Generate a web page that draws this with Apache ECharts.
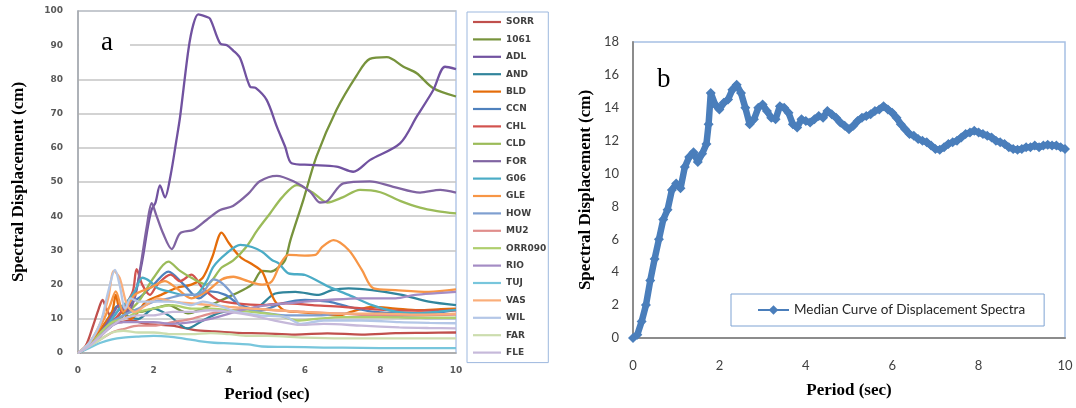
<!DOCTYPE html>
<html>
<head>
<meta charset="utf-8">
<script src="https://cdn.jsdelivr.net/npm/echarts@6/dist/echarts.min.js"></script>
<style>
  html, body { margin: 0; padding: 0; background: #fff; }
  #main { width: 1076px; height: 408px; }
</style>
</head>
<body>
<div id="main"></div>
<script>
// panel a: station names (legend order) and their curves [period, displacement]
var stations = ['SORR', '1061', 'ADL', 'AND', 'BLD', 'CCN', 'CHL', 'CLD', 'FOR', 'G06',
  'GLE', 'HOW', 'MU2', 'ORR090', 'RIO', 'TUJ', 'VAS', 'WIL', 'FAR', 'FLE'];

var sorr = [[0,0],[0.2,2],[0.4,8],[0.55,13],[0.65,15.5],[0.75,13],[0.9,10],[1.1,9],[1.4,9.5],[1.8,8.5],[2.2,8.2],[2.6,7.8],[3.1,6.7],[3.6,6.3],[4.2,5.9],[4.9,5.75],[5.75,5.4],[6.6,5.75],[7.5,5.4],[8.4,5.8],[9.2,5.9],[10,6]];
var s1061 = [[0,0],[0.3,2],[0.6,6],[1.0,10],[1.3,13],[1.6,12],[2.0,13],[2.4,14],[2.7,12.5],[2.91,11.6],[3.3,13],[3.7,15],[4.1,17],[4.6,20],[4.87,24],[5.1,23.8],[5.3,25],[5.48,27.2],[5.62,33],[5.96,44.7],[6.31,57.5],[6.84,71.1],[7.37,81.1],[7.72,86],[8.17,86.5],[8.61,83.7],[8.96,81.8],[9.4,77.4],[10,75]];
var adl = [[0,0],[0.3,2],[0.6,5],[0.9,8],[1.2,11],[1.5,17],[1.7,27],[1.85,37],[1.95,42],[2.05,44],[2.17,49],[2.3,45.5],[2.45,52],[2.6,62],[2.7,69],[2.92,88.6],[3.05,96],[3.18,99],[3.35,98.5],[3.49,97.8],[3.76,90.5],[3.94,90],[4.1,88.5],[4.29,86.2],[4.55,77.9],[4.7,77.5],[4.99,74],[5.26,66.2],[5.48,60.3],[5.65,55.5],[6.14,55],[6.84,54.5],[7.28,53],[7.72,56.4],[8.52,61.3],[8.96,69.1],[9.4,76.9],[9.71,83.7],[10,83]];
var and = [[0,0],[0.3,2],[0.6,6],[0.9,12],[1.1,14],[1.3,11],[1.6,10],[2.0,13],[2.4,11],[2.9,7.2],[3.26,9.2],[3.7,11.6],[4.23,12.6],[4.76,13.5],[5.22,17.4],[5.75,17.9],[6.37,17],[6.72,18.4],[7.16,18.9],[7.78,18.4],[8.57,17],[9.28,15],[10,14]];
var bld = [[0,0],[0.3,2],[0.6,7],[0.9,12],[1.0,17],[1.1,13],[1.4,10],[1.8,15],[2.2,17],[2.6,19],[3.0,20],[3.3,22],[3.55,28],[3.8,35.2],[4.0,32],[4.3,28],[4.6,26],[4.87,23.8],[5.05,19],[5.22,15],[5.45,12.5],[5.8,12],[6.4,11.5],[6.9,11],[7.25,12.1],[7.78,13.5],[8.4,13],[9.0,12.5],[9.6,12.8],[10,13]];
var ccn = [[0,0],[0.3,2],[0.6,6],[0.9,10],[1.2,14],[1.6,16],[2.0,20],[2.39,23.8],[2.8,20],[3.2,16],[3.5,18],[3.9,17],[4.3,14],[4.87,12.6],[5.4,14.5],[6.01,15.5],[6.63,15],[7.16,13.5],[7.78,12.1],[8.57,11.6],[9.28,11.6],[10,12.6]];
var chl = [[0,0],[0.3,2],[0.6,6],[0.9,9],[1.2,13],[1.45,18],[1.55,24.5],[1.7,20],[1.9,17],[2.1,20],[2.45,22.9],[2.7,21],[3.0,22.9],[3.3,19],[3.7,15.5],[4.2,14.5],[4.87,14],[5.5,14.5],[6.2,14],[7.0,13.5],[7.8,12.8],[8.6,12.4],[9.4,12.4],[10,12.5]];
var cld = [[0,0],[0.3,2],[0.6,5],[0.9,9],[1.2,11],[1.6,15],[2.0,22],[2.39,26.7],[2.7,24],[3.0,22],[3.4,20],[3.8,25],[4.1,27],[4.45,31],[4.75,36],[5.08,40.8],[5.4,45.5],[5.79,49.1],[6.2,47],[6.6,44],[7.0,45.5],[7.46,47.7],[8.0,47],[8.52,44.5],[9.05,42.5],[9.5,41.5],[10,40.8]];
var sfor = [[0,0],[0.3,2],[0.6,6],[0.9,11],[1.1,14],[1.3,12],[1.5,16],[1.65,25],[1.82,37],[1.95,43.8],[2.08,40],[2.25,35],[2.48,30.4],[2.7,35],[3.05,36],[3.4,38.9],[3.76,41.8],[4.1,43],[4.5,46.5],[4.81,50.2],[5.26,51.8],[5.7,50.2],[6.14,47.2],[6.4,44],[6.6,44.5],[7.02,49.6],[7.72,50.2],[8.34,48.6],[9.05,46.9],[9.58,47.7],[10,46.9]];
var g06 = [[0,0],[0.3,2],[0.6,5],[0.9,10],[1.1,13],[1.3,15],[1.5,18],[1.7,22],[1.9,21],[2.1,19],[2.4,18],[2.8,17],[3.1,17],[3.4,21],[3.58,25.2],[3.93,29.1],[4.29,31.6],[4.6,31],[4.87,29.6],[5.13,27.2],[5.31,26.2],[5.57,23.3],[6.01,22.8],[6.63,19.4],[7.16,17],[7.78,14],[8.4,12.1],[9.01,11.6],[9.54,12.1],[10,12.6]];
var gle = [[0,0],[0.3,3],[0.6,8],[0.85,14],[1.0,18],[1.2,12],[1.5,17],[1.9,19],[2.3,21],[2.6,19],[3.0,16],[3.4,18],[3.8,21.5],[4.11,22.3],[4.5,21],[4.87,20],[5.13,21],[5.35,26],[5.57,28.7],[6.0,28.5],[6.28,28.7],[6.46,31],[6.76,33],[7.16,30.1],[7.51,24.3],[7.82,18.9],[8.4,18.4],[9.28,17.9],[10,18.6]];
var how = [[0,0],[0.3,2],[0.6,5],[0.9,9],[1.2,11],[1.6,13],[2.0,15],[2.4,16],[2.8,17],[3.1,17],[3.35,18.4],[3.58,21.5],[3.8,20.5],[4.1,17],[4.32,13.5],[4.8,12],[5.5,11],[6.3,11],[7.0,11.5],[7.8,11],[8.6,10.5],[9.3,10.2],[10,10.2]];
var mu2 = [[0,0],[0.3,2],[0.6,4],[0.9,6],[1.2,7],[1.6,8],[2.0,8],[2.5,9],[3.0,10],[3.5,11.5],[4.0,12.5],[4.6,13],[5.2,12.5],[6.0,12],[7.0,11.5],[8.0,11],[9.0,11],[10,11.2]];
var orr090 = [[0,0],[0.3,2],[0.6,6],[0.9,9],[1.2,10],[1.6,12],[2.0,13],[2.5,14],[3.0,13],[3.5,13],[4.0,12.5],[4.6,12],[5.3,11],[5.8,9.5],[6.3,10],[7.0,10.5],[8.0,10.5],[9.0,10.3],[10,10.3]];
var rio = [[0,0],[0.3,2],[0.6,5],[0.9,8],[1.2,9],[1.6,9],[2.0,9],[2.5,8.5],[3.0,9],[3.5,10],[4.0,11.5],[4.5,13],[5.0,14],[5.5,14.5],[6.0,15],[6.6,15.5],[7.5,16],[8.4,16],[8.92,17],[9.5,17.5],[10,17.9]];
var tuj = [[0,0],[0.3,1.5],[0.6,3],[0.9,4],[1.2,4.5],[1.6,4.8],[2.0,5],[2.4,4.8],[2.8,4.2],[3.2,3.5],[3.6,3],[4.0,2.8],[4.5,2.5],[4.87,1.9],[5.5,1.8],[6.5,1.6],[7.5,1.5],[8.5,1.4],[10,1.4]];
var vas = [[0,0],[0.3,3],[0.6,9],[0.8,16],[0.95,24],[1.1,22],[1.3,14],[1.5,12],[1.8,14],[2.1,16],[2.5,15],[3.0,14.5],[3.5,14],[4.0,13.5],[4.6,13],[5.3,12.5],[6.0,12],[7.0,11.5],[8.0,11.5],[9.0,11.2],[10,11.5]];
var wil = [[0,0],[0.3,3],[0.6,9],[0.8,18],[0.98,24.3],[1.1,20],[1.25,13],[1.4,16],[1.6,15],[2.0,15],[2.5,15],[3.0,14],[3.3,15],[3.7,14],[4.2,12],[4.8,11],[5.5,10.5],[5.9,8.5],[6.5,9.5],[7.5,9.5],[8.5,9],[9.3,8.8],[10,8.7]];
var far = [[0,0],[0.3,2],[0.6,4],[0.9,6],[1.2,6.5],[1.6,6],[2.0,6],[2.5,5.5],[3.0,5.5],[3.5,5.8],[4.0,5.5],[4.5,5],[5.0,5],[6.0,4.5],[7.0,4.3],[8.0,4.3],[9.0,4.3],[10,4.3]];
var fle = [[0,0],[0.3,2],[0.6,5],[0.9,8],[1.2,10],[1.6,11],[2.0,11],[2.5,12],[3.0,12],[3.5,12.5],[4.0,12],[4.6,11],[5.2,9.5],[5.9,8.2],[6.5,8.5],[7.5,8],[8.5,7.5],[9.3,7.3],[10,7.2]];

var stationCurves = [sorr, s1061, adl, and, bld, ccn, chl, cld, sfor, g06,
  gle, how, mu2, orr090, rio, tuj, vas, wil, far, fle];

// panel b: median curve
var medianName = 'Median Curve of Displacement Spectra';
var median = [[0,0],[0.1,0.2],[0.2,1.0],[0.3,2.0],[0.4,3.5],[0.5,4.8],[0.6,6.0],[0.7,7.2],[0.8,7.8],[0.9,9.0],
  [1.0,9.4],[1.1,9.1],[1.2,10.4],[1.3,11.0],[1.4,11.3],[1.5,10.7],[1.6,11.2],[1.7,11.8],[1.75,13.0],[1.8,14.9],
  [1.9,14.2],[2.0,13.9],[2.1,14.3],[2.2,14.5],[2.3,15.1],[2.4,15.4],[2.5,14.9],[2.6,14.0],[2.7,13.0],[2.8,13.3],
  [2.9,14.0],[3.0,14.2],[3.1,13.8],[3.2,13.4],[3.3,13.3],[3.4,14.1],[3.5,14.0],[3.6,13.7],[3.7,13.0],[3.8,12.8],
  [3.9,13.3],[4.0,13.2],[4.1,13.1],[4.2,13.3],[4.3,13.5],[4.4,13.4],[4.5,13.8],[4.6,13.6],[4.7,13.4],[4.8,13.1],
  [4.9,12.9],[5.0,12.7],[5.1,12.9],[5.2,13.2],[5.3,13.4],[5.4,13.5],[5.5,13.6],[5.6,13.8],[5.7,13.9],[5.8,14.1],
  [5.9,13.9],[6.0,13.7],[6.1,13.4],[6.2,13.0],[6.3,12.7],[6.4,12.4],[6.5,12.3],[6.6,12.1],[6.7,12.0],[6.8,11.9],
  [6.9,11.7],[7.0,11.5],[7.1,11.45],[7.2,11.6],[7.3,11.8],[7.4,11.9],[7.5,12.0],[7.6,12.2],[7.7,12.4],[7.8,12.5],
  [7.9,12.6],[8.0,12.5],[8.1,12.4],[8.2,12.3],[8.3,12.2],[8.4,12.0],[8.5,11.9],[8.6,11.8],[8.7,11.6],[8.8,11.5],
  [8.9,11.45],[9.0,11.5],[9.1,11.6],[9.2,11.6],[9.3,11.7],[9.4,11.6],[9.5,11.7],[9.6,11.75],[9.7,11.7],[9.8,11.7],
  [9.9,11.6],[10.0,11.5]];

// line colours, same order as stations
var colors = ['#C0504D', '#77933C', '#7152A0', '#31859C', '#E46C0A', '#4F81BD', '#D2524E', '#9BBB59', '#8064A2', '#4BACC6',
  '#F79646', '#7F9FD0', '#E08E8C', '#AFCF6E', '#A48CC4', '#78C6DC', '#FAAE7A', '#B4C7E7', '#CCDDAE', '#C6B9DA'];

var chart = echarts.init(document.getElementById('main'));

var titleFont = { fontFamily: 'Liberation Serif', fontWeight: 'bold', fontSize: 17, color: '#000' };

var series = stationCurves.map(function (d, i) {
  return {
    name: stations[i],
    type: 'line',
    xAxisIndex: 0,
    yAxisIndex: 0,
    symbol: 'none',
    smooth: 0.3,
    color: colors[i],
    lineStyle: { width: 2.3 },
    data: d
  };
});

series.push({
  name: medianName,
  type: 'line',
  xAxisIndex: 1,
  yAxisIndex: 1,
  symbol: 'diamond',
  symbolSize: 10,
  showAllSymbol: true,
  color: '#4A7EBB',
  lineStyle: { width: 6.5 },
  data: median
});

chart.setOption({
  animation: false,
  backgroundColor: '#fff',
  title: [{
    text: 'a',
    left: 79, top: 29,
    padding: [0, 17, 0, 22],
    backgroundColor: '#fff',
    textStyle: { fontFamily: 'Liberation Serif', fontWeight: 'normal', fontSize: 27, color: '#000' }
  }, {
    text: 'b',
    left: 657, top: 66,
    padding: 0,
    textStyle: { fontFamily: 'Liberation Serif', fontWeight: 'normal', fontSize: 27, color: '#000' }
  }],
  legend: [{
    data: stations,
    orient: 'vertical',
    left: 467, top: 12,
    icon: 'path://M0,0H28V2.2H0Z',
    itemWidth: 28, itemHeight: 10, itemGap: 7.4,
    padding: [5, 2, 5, 6],
    borderColor: '#9DB8DE', borderWidth: 1,
    textStyle: { fontFamily: 'DejaVu Sans', fontWeight: 'bold', fontSize: 9, color: '#404040', lineHeight: 10 }
  }, {
    data: [medianName],
    left: 731, top: 294,
    itemWidth: 31, itemHeight: 12,
    padding: [9, 19, 9, 26],
    borderColor: '#7FA3D3', borderWidth: 1,
    textStyle: { fontFamily: 'Lato', fontSize: 13.5, color: '#262626' }
  }],
  grid: [{
    left: 78, top: 11, width: 378, height: 342,
    show: true, borderColor: '#B4C7E7', borderWidth: 1.5
  }, {
    left: 633, top: 42, width: 432, height: 296,
    show: true, borderColor: '#A7C0E4', borderWidth: 1.5
  }],
  xAxis: [{
    gridIndex: 0, type: 'value', min: 0, max: 10, interval: 2,
    name: 'Period (sec)', nameLocation: 'middle', nameGap: 33, nameTextStyle: titleFont,
    axisLine: { lineStyle: { color: '#A6A6A6', width: 1.5 } },
    axisTick: { show: false },
    splitLine: { show: false },
    axisLabel: { margin: 13, fontFamily: 'DejaVu Sans', fontWeight: 'bold', fontSize: 9, color: '#595959' }
  }, {
    gridIndex: 1, type: 'value', min: 0, max: 10, interval: 2,
    name: 'Period (sec)', nameLocation: 'middle', nameGap: 44, nameTextStyle: titleFont,
    axisLine: { lineStyle: { color: '#8C8C8C', width: 2 } },
    axisTick: { show: false },
    splitLine: { show: false },
    axisLabel: { margin: 21, fontFamily: 'Lato', fontSize: 13, color: '#404040' }
  }],
  yAxis: [{
    gridIndex: 0, type: 'value', min: 0, max: 100, interval: 10,
    name: 'Spectral Displacement (cm)', nameLocation: 'middle', nameGap: 51, nameTextStyle: titleFont,
    axisLine: { show: true, lineStyle: { color: '#A6A6A6', width: 1.5 } },
    axisTick: { show: false },
    splitLine: { lineStyle: { color: '#C4C4C4', width: 1.5 } },
    axisLabel: { margin: 15, fontFamily: 'DejaVu Sans', fontWeight: 'bold', fontSize: 9, color: '#595959' }
  }, {
    gridIndex: 1, type: 'value', min: 0, max: 18, interval: 2,
    name: 'Spectral Displacement (cm)', nameLocation: 'middle', nameGap: 39, nameTextStyle: titleFont,
    axisLine: { show: true, lineStyle: { color: '#8C8C8C', width: 2 } },
    axisTick: { show: false },
    splitLine: { show: false },
    axisLabel: { margin: 14, fontFamily: 'Lato', fontSize: 13, color: '#404040' }
  }],
  series: series
});
</script>
</body>
</html>
